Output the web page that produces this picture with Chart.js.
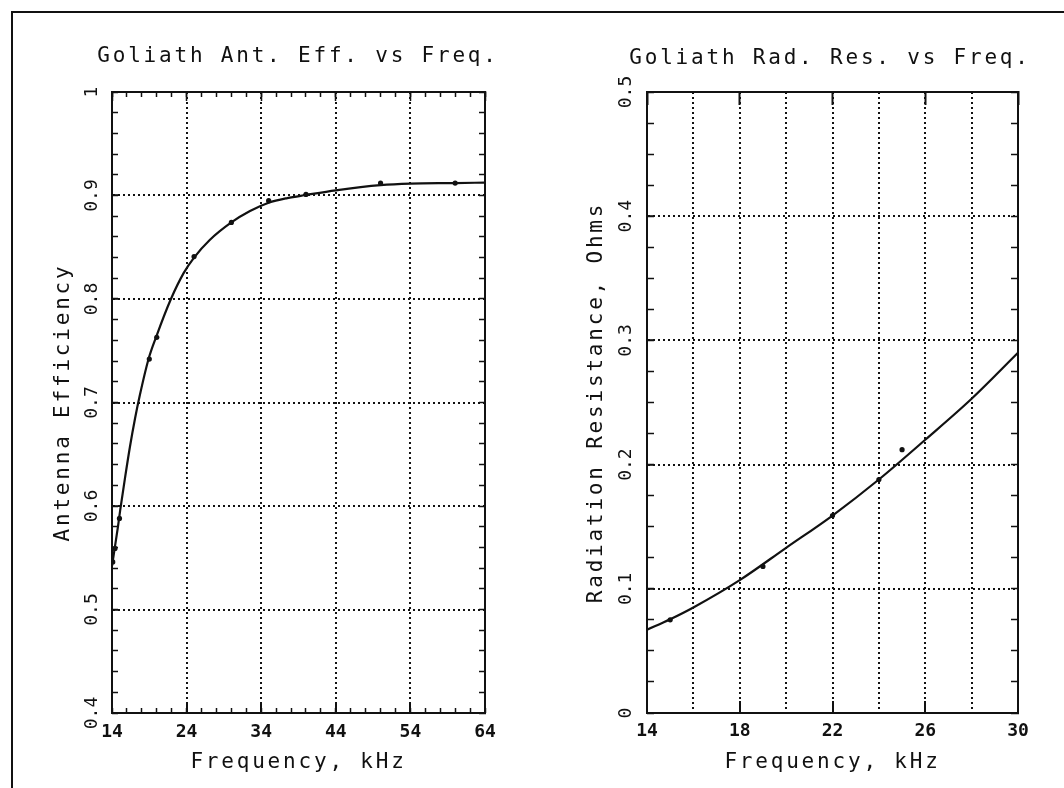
<!DOCTYPE html>
<html>
<head>
<meta charset="utf-8">
<script src="https://cdn.jsdelivr.net/npm/chart.js@4.4.0/dist/chart.umd.min.js"></script>
<style>
body{margin:0;background:#fff;width:1064px;height:788px;overflow:hidden;position:relative}
#frame{position:absolute;left:11px;top:11px;width:1100px;height:800px;border-left:2px solid #111;border-top:2px solid #111}
canvas{position:absolute;top:0}
#effChart{left:0}
#resChart{left:532px}
</style>
</head>
<body>
<div id="frame"></div>
<canvas id="effChart" width="596" height="788"></canvas>
<canvas id="resChart" width="596" height="788"></canvas>
<script>
// left panel: antenna efficiency
var effCurveFreq=[14,14.4,14.8,15.1,15.7,16.4,17.1,17.7,18.9,19.9,21.9,23.6,25,27.1,30,32.5,35,37.5,40,44,50,54,60,64];
var effCurveVal=[0.542,0.561,0.58,0.596,0.625,0.657,0.685,0.706,0.742,0.763,0.8,0.825,0.84,0.857,0.874,0.885,0.893,0.8975,0.9005,0.905,0.910,0.9115,0.912,0.9125];
var effPointFreq=[14.1,14.4,15,19,20,25,30,35,40,50,60];
var effPointVal=[0.546,0.559,0.588,0.742,0.763,0.841,0.874,0.895,0.901,0.912,0.912];
var effFreqTicks=[14,24,34,44,54,64];
var effTicks=[0.4,0.5,0.6,0.7,0.8,0.9,1];

// right panel: radiation resistance
var resCurveFreq=[14,15,16,18,20,22,24,26,28,30];
var resCurveVal=[0.067,0.0755,0.085,0.107,0.133,0.159,0.188,0.220,0.253,0.290];
var resPointFreq=[15,19,22,24,25];
var resPointVal=[0.075,0.118,0.159,0.188,0.212];
var resFreqTicks=[14,18,22,26,30];
var resGridFreq=[14,16,18,20,22,24,26,28,30];
var resTicks=[0,0.1,0.2,0.3,0.4,0.5];

var ink='#111';
var none='rgba(0,0,0,0)';
var dotted=[2,3];

Chart.defaults.font.family='"DejaVu Sans Mono", monospace';
Chart.defaults.color=ink;

function pts(xs,ys){
	return xs.map(function(x,i){return {x:x,y:ys[i]};});
}
function fixH(h){return function(s){s.height=h;};}
function fixW(w){return function(s){s.width=w;};}
function setTicks(arr){return function(s){s.ticks=arr.map(function(v){return {value:v};});};}
function edgeColor(c){
	return (c.index===0||c.index===c.scale.ticks.length-1)?none:ink;
}
function plainNum(v){return String(Math.round(v*1000)/1000);}

// wide plotter lettering for titles, plain for tick labels
var spacing={
	id:'spacing',
	beforeDraw:function(c){c.ctx.letterSpacing='2.8px';},
	afterDatasetsDraw:function(c){c.ctx.letterSpacing='0px';}
};

function sets(cf,cv,pf,pv){
	return [{
		data:pts(cf,cv),showLine:true,borderColor:ink,borderWidth:2.2,
		pointRadius:0,cubicInterpolationMode:'monotone'
	},{
		data:pts(pf,pv),showLine:false,pointRadius:2.6,
		backgroundColor:ink,borderColor:ink,borderWidth:0
	}];
}

function minorX(min,max,step,yPos,len){
	var p={};p.y=yPos;
	return {type:'linear',position:p,min:min,max:max,
		ticks:{display:false,stepSize:step},
		grid:{drawOnChartArea:false,tickLength:len,tickColor:ink,tickWidth:1.5},
		border:{display:false}};
}
function minorY(min,max,step,xPos,len){
	var p={};p.x=xPos;
	return {type:'linear',position:p,min:min,max:max,
		ticks:{display:false,stepSize:step},
		grid:{drawOnChartArea:false,tickLength:len,tickColor:ink,tickWidth:1.5},
		border:{display:false}};
}

new Chart(document.getElementById('effChart'),{
	type:'scatter',
	data:{datasets:sets(effCurveFreq,effCurveVal,effPointFreq,effPointVal)},
	options:{
		responsive:false,animation:false,devicePixelRatio:1,events:[],
		layout:{padding:0},
		plugins:{
			legend:{display:false},tooltip:{enabled:false},
			title:{display:true,text:'Goliath Ant. Eff. vs Freq.',font:{size:21,weight:'normal'},color:ink,padding:{top:44,bottom:0}}
		},
		scales:{
			x:{type:'linear',position:'bottom',min:14,max:64,
				afterBuildTicks:setTicks(effFreqTicks),afterFit:fixH(75),
				grid:{color:edgeColor,lineWidth:2,tickLength:-11,tickColor:ink,tickWidth:2,tickBorderDash:[]},
				border:{color:ink,width:2,dash:dotted},
				ticks:{z:1,padding:20,autoSkip:false,maxRotation:0,font:{size:18,weight:'bold'},color:ink},
				title:{display:true,text:'Frequency, kHz',font:{size:21},color:ink,padding:{top:0,bottom:13}}
			},
			x2:{type:'linear',position:'top',min:14,max:64,afterFit:fixH(22.8),
				ticks:{display:false,stepSize:2},
				grid:{drawOnChartArea:false,tickLength:-5,tickColor:ink,tickWidth:1.5},
				border:{color:ink,width:2}
			},
			xT:minorX(14,64,10,1,9),
			xB:minorX(14,64,2,0.4,-5),
			y:{type:'linear',position:'left',min:0.4,max:1,
				afterBuildTicks:setTicks(effTicks),afterFit:fixW(112),
				grid:{color:edgeColor,lineWidth:2,tickLength:-6,tickColor:ink,tickWidth:1.5,tickBorderDash:[]},
				border:{color:ink,width:2,dash:dotted},
				ticks:{z:1,padding:9,minRotation:90,maxRotation:90,crossAlign:'center',font:{size:18},color:ink,callback:plainNum},
				title:{display:true,text:'Antenna Efficiency',font:{size:21},color:ink,padding:{top:51,bottom:0}}
			},
			y2:{type:'linear',position:'right',min:0.4,max:1,afterFit:fixW(111),
				ticks:{display:false,stepSize:0.02},
				grid:{drawOnChartArea:false,tickLength:-6,tickColor:ink,tickWidth:1.5},
				border:{color:ink,width:2}
			},
			yL:minorY(0.4,1,0.02,14,-6)
		}
	},
	plugins:[spacing]
});

new Chart(document.getElementById('resChart'),{
	type:'scatter',
	data:{datasets:sets(resCurveFreq,resCurveVal,resPointFreq,resPointVal)},
	options:{
		responsive:false,animation:false,devicePixelRatio:1,events:[],
		layout:{padding:0},
		plugins:{
			legend:{display:false},tooltip:{enabled:false},
			title:{display:true,text:'Goliath Rad. Res. vs Freq.',font:{size:21,weight:'normal'},color:ink,padding:{top:46,bottom:0}}
		},
		scales:{
			x:{type:'linear',position:'bottom',min:14,max:30,
				afterBuildTicks:setTicks(resGridFreq),afterFit:fixH(75),
				grid:{color:edgeColor,lineWidth:2,tickLength:-12,tickWidth:2,tickBorderDash:[],
					tickColor:function(c){return resFreqTicks.indexOf(c.tick.value)>=0?ink:none;}},
				border:{color:ink,width:2,dash:dotted},
				ticks:{z:1,padding:20,autoSkip:false,maxRotation:0,font:{size:18,weight:'bold'},color:ink,
					callback:function(v){return resFreqTicks.indexOf(v)>=0?String(v):'';}},
				title:{display:true,text:'Frequency, kHz',font:{size:21},color:ink,padding:{top:0,bottom:13}}
			},
			x2:{type:'linear',position:'top',min:14,max:30,afterFit:fixH(20.8),
				afterBuildTicks:setTicks(resFreqTicks),
				ticks:{display:false},
				grid:{drawOnChartArea:false,tickLength:-13,tickColor:ink,tickWidth:2},
				border:{color:ink,width:2}
			},
			y:{type:'linear',position:'left',min:0,max:0.5,
				afterBuildTicks:setTicks(resTicks),afterFit:fixW(115),
				grid:{color:edgeColor,lineWidth:2,tickLength:-7,tickColor:ink,tickWidth:1.5,tickBorderDash:[]},
				border:{color:ink,width:2,dash:dotted},
				ticks:{z:1,padding:11,minRotation:90,maxRotation:90,crossAlign:'center',font:{size:18},color:ink,callback:plainNum},
				title:{display:true,text:'Radiation Resistance, Ohms',font:{size:21},color:ink,padding:{top:52,bottom:0}}
			},
			y2:{type:'linear',position:'right',min:0,max:0.5,afterFit:fixW(110),
				ticks:{display:false,stepSize:0.025},
				grid:{drawOnChartArea:false,tickLength:-7,tickColor:ink,tickWidth:1.5},
				border:{color:ink,width:2}
			},
			yL:minorY(0,0.5,0.025,14,-7)
		}
	},
	plugins:[spacing]
});
</script>
</body>
</html>
